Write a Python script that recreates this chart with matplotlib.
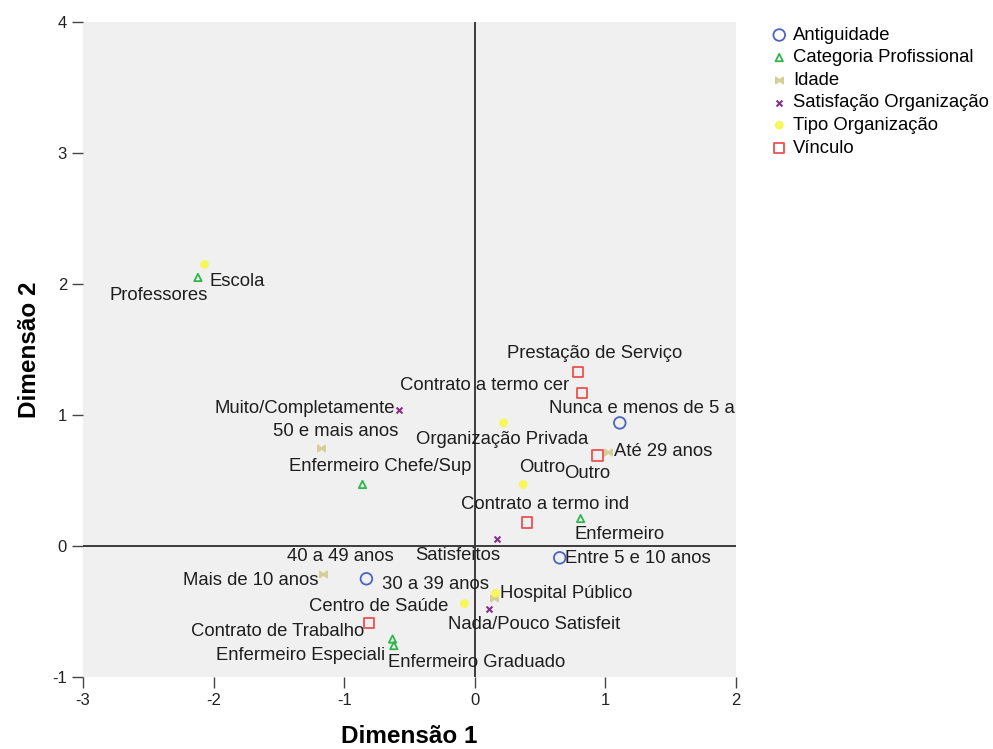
import numpy as np
import matplotlib.pyplot as plt

plt.rcParams['font.family'] = ['Liberation Sans', 'DejaVu Sans']
plt.rcParams['axes.unicode_minus'] = False

# category points per variable (Dimensão 1, Dimensão 2)
antig_names = ['Nunca e menos de 5 a', 'Entre 5 e 10 anos', 'Mais de 10 anos']
antig_x = [1.11, 0.65, -0.83]
antig_y = [0.94, -0.09, -0.25]

cat_names = ['Professores', 'Enfermeiro Chefe/Sup', 'Enfermeiro', 'Enfermeiro Especiali', 'Enfermeiro Graduado']
cat_x = [-2.12, -0.86, 0.81, -0.63, -0.62]
cat_y = [2.05, 0.47, 0.21, -0.71, -0.76]

idade_names = ['50 e mais anos', 'Até 29 anos', '40 a 49 anos', '30 a 39 anos']
idade_x = [-1.18, 1.02, -1.16, 0.15]
idade_y = [0.75, 0.72, -0.21, -0.40]

satis_names = ['Muito/Completamente', 'Satisfeitos', 'Nada/Pouco Satisfeit']
satis_x = [-0.58, 0.17, 0.11]
satis_y = [1.04, 0.05, -0.48]

tipo_names = ['Escola', 'Organização Privada', 'Outro', 'Hospital Público', 'Centro de Saúde']
tipo_x = [-2.07, 0.22, 0.37, 0.16, -0.08]
tipo_y = [2.15, 0.94, 0.47, -0.36, -0.44]

vinc_names = ['Prestação de Serviço', 'Contrato a termo cer', 'Outro', 'Contrato a termo ind', 'Contrato de Trabalho']
vinc_x = [0.79, 0.82, 0.94, 0.40, -0.81]
vinc_y = [1.33, 1.17, 0.69, 0.18, -0.59]

# label placement (pixel offset from point, alignment)
label_pos = {
    'Nunca e menos de 5 a': (22, 14, 'center'),
    'Entre 5 e 10 anos': (5, -1, 'left'),
    'Mais de 10 anos': (-48, -2, 'right'),
    'Professores': (10, -18, 'right'),
    'Enfermeiro Chefe/Sup': (18, 18, 'center'),
    'Enfermeiro': (-6, -16, 'left'),
    'Enfermeiro Especiali': (-7, -16, 'right'),
    'Enfermeiro Graduado': (-6, -17, 'left'),
    '50 e mais anos': (15, 16, 'center'),
    'Até 29 anos': (6, 0, 'left'),
    '40 a 49 anos': (17, 17, 'center'),
    '30 a 39 anos': (-5, 14, 'right'),
    'Muito/Completamente': (-4, 1, 'right'),
    'Satisfeitos': (-39, -16, 'center'),
    'Nada/Pouco Satisfeit': (45, -16, 'center'),
    'Escola': (5, -17, 'left'),
    'Organização Privada': (-1, -17, 'center'),
    'Hospital Público': (4, 0, 'left'),
    'Centro de Saúde': (-16, -3, 'right'),
    'Prestação de Serviço': (17, 18, 'center'),
    'Contrato a termo cer': (-13, 7, 'right'),
    'Contrato a termo ind': (18, 18, 'center'),
    'Contrato de Trabalho': (-5, -8, 'right'),
}
outro_pos = {'tipo': (19, 17, 'center'), 'vinc': (-10, -18, 'center')}

fig = plt.figure(figsize=(9.93, 7.49), dpi=100)
ax = fig.add_axes([0.0836, 0.0961, 0.6576, 0.8745])
ax.set_facecolor('#f0f0f0')
for s in ax.spines.values():
    s.set_visible(False)

ax.axhline(0, color='#3c3c3c', lw=1.4, zorder=1)
ax.axvline(0, color='#3c3c3c', lw=1.4, zorder=1)

groups = [
    ('Antiguidade', antig_names, antig_x, antig_y, dict(marker='o', s=70, facecolors='none', edgecolors='#4a64c0', linewidths=1.3), None),
    ('Categoria Profissional', cat_names, cat_x, cat_y, dict(marker='^', s=28, facecolors='none', edgecolors='#2fb64a', linewidths=1.3), None),
    ('Idade', idade_names, idade_x, idade_y, dict(marker='$\u22c8$', s=30, color='#d4cf96'), None),
    ('Satisfação Organização', satis_names, satis_x, satis_y, dict(marker='x', s=18, color='#86308a', linewidths=1.5), None),
    ('Tipo Organização', tipo_names, tipo_x, tipo_y, dict(marker='o', s=40, color='#f7f75a', edgecolors='none'), 'tipo'),
    ('Vínculo', vinc_names, vinc_x, vinc_y, dict(marker='s', s=55, facecolors='none', edgecolors='#ee5050', linewidths=1.3), 'vinc'),
]

handles = []
for title, names, xs, ys, style, key in groups:
    h = ax.scatter(xs, ys, label=title, zorder=3, **style)
    handles.append(h)
    for n, x, y in zip(names, xs, ys):
        if n == 'Outro':
            dx, dy, ha = outro_pos[key]
        else:
            dx, dy, ha = label_pos[n]
        ax.annotate(n, (x, y), xytext=(dx, dy), textcoords='offset pixels',
                    ha=ha, va='center', fontsize=13.3, color='#1e1e1e', zorder=4)

ax.set_xlim(-3, 2)
ax.set_ylim(-1, 4)
ax.set_xticks([-3, -2, -1, 0, 1, 2])
ax.set_yticks([-1, 0, 1, 2, 3, 4])
ax.tick_params(direction='out', length=8, width=1, color='#444444', labelsize=12, labelcolor='#222222')

ax.set_xlabel('Dimensão 1', fontsize=17.5, fontweight='bold', labelpad=12)
ax.set_ylabel('Dimensão 2', fontsize=17.5, fontweight='bold', labelpad=8)

leg = fig.legend(handles=handles, loc='upper left', bbox_to_anchor=(0.768, 0.974),
                 frameon=False, fontsize=13.3, handletextpad=0.25, labelspacing=0.3,
                 handlelength=1.0, borderaxespad=0)

fig.savefig('out.png', dpi=100)
